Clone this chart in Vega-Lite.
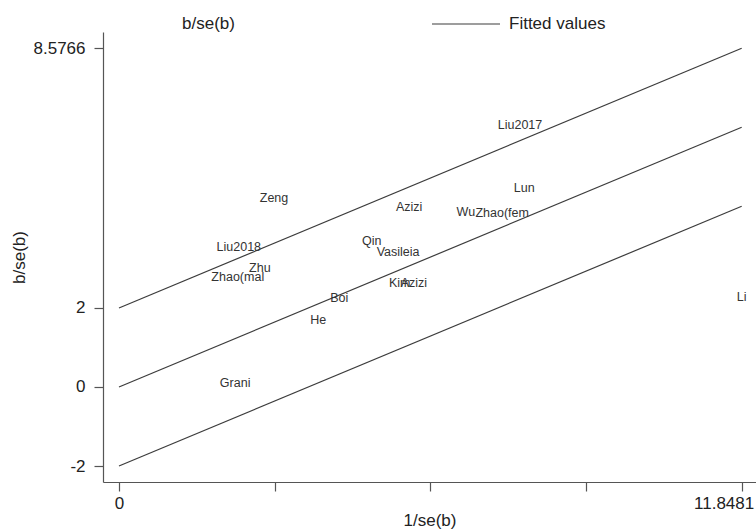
{
  "$schema": "https://vega.github.io/schema/vega-lite/v6.json",
  "width": 653,
  "height": 450,
  "autosize": {"type": "none"},
  "padding": {"left": 103, "top": 32, "right": 0, "bottom": 47},
  "background": "white",
  "config": {
    "view": {"stroke": null},
    "font": "Liberation Sans",
    "axis": {"grid": false, "domainColor": "#555555", "tickColor": "#555555", "labelColor": "#222222", "titleColor": "#222222", "labelFont": "Liberation Sans", "titleFont": "Liberation Sans", "labelFontSize": 17, "titleFontSize": 17, "titleFontWeight": "normal", "tickSize": 9, "domainWidth": 1.2, "tickWidth": 1.2}
  },
  "datasets": {
    "lines": [
      {"x": 0, "y": -2, "line": "lower", "series": "Fitted values"},
      {"x": 11.8481, "y": 4.5766, "line": "lower", "series": "Fitted values"},
      {"x": 0, "y": 0, "line": "middle", "series": "Fitted values"},
      {"x": 11.8481, "y": 6.5766, "line": "middle", "series": "Fitted values"},
      {"x": 0, "y": 2, "line": "upper", "series": "Fitted values"},
      {"x": 11.8481, "y": 8.5766, "line": "upper", "series": "Fitted values"}
    ],
    "studies": [
      {"study": "Liu2017", "x": 7.63, "y": 6.63},
      {"study": "Zeng", "x": 2.95, "y": 4.78},
      {"study": "Azizi", "x": 5.52, "y": 4.56},
      {"study": "Lun", "x": 7.71, "y": 5.04},
      {"study": "Wu", "x": 6.6, "y": 4.43},
      {"study": "Zhao(fem", "x": 7.29, "y": 4.41},
      {"study": "Liu2018", "x": 2.28, "y": 3.54},
      {"study": "Qin", "x": 4.81, "y": 3.7},
      {"study": "Vasileia", "x": 5.31, "y": 3.42},
      {"study": "Zhu", "x": 2.68, "y": 3.01},
      {"study": "Zhao(mal", "x": 2.26, "y": 2.78},
      {"study": "Kim", "x": 5.34, "y": 2.63},
      {"study": "Azizi", "x": 5.61, "y": 2.63},
      {"study": "Boi", "x": 4.19, "y": 2.25},
      {"study": "He", "x": 3.79, "y": 1.7},
      {"study": "Grani", "x": 2.21, "y": 0.1},
      {"study": "Li", "x": 11.8481, "y": 2.28}
    ]
  },
  "layer": [
    {
      "data": {"name": "lines"},
      "mark": {"type": "line", "strokeWidth": 1.2},
      "encoding": {
        "x": {"field": "x", "type": "quantitative", "scale": {"domain": [-0.304, 12.12], "nice": false, "zero": false},
          "axis": {"title": "1/se(b)", "values": [0, 2.962, 5.924, 8.886, 11.8481], "labelExpr": "datum.value == 0 || datum.value > 11 ? '' + datum.value : ''", "labelPadding": 4, "titlePadding": 1,
            "labelAlign": {"condition": {"test": "datum.value > 11", "value": "right"}, "value": "center"},
            "labelOffset": {"condition": {"test": "datum.value > 11", "value": 12}, "value": 0}}},
        "y": {"field": "y", "type": "quantitative", "scale": {"domain": [-2.405, 8.987], "nice": false, "zero": false},
          "axis": {"title": "b/se(b)", "values": [-2, 0, 2, 8.5766], "labelExpr": "'' + datum.value", "labelPadding": 9, "titlePadding": 5}},
        "detail": {"field": "line"},
        "color": {"field": "series", "type": "nominal", "scale": {"domain": ["b/se(b)", "Fitted values"], "range": ["transparent", "#3c3c3c"]},
          "legend": {"title": null, "orient": "none", "direction": "horizontal", "legendX": 1, "legendY": -43, "symbolType": "stroke", "symbolSize": 4624, "symbolStrokeWidth": 1.2, "labelFontSize": 17, "labelFont": "Liberation Sans", "labelColor": "#222222", "labelOffset": 8, "gridAlign": "all", "columnPadding": 150, "padding": 0, "labelLimit": 300}}
      }
    },
    {
      "data": {"name": "studies"},
      "mark": {"type": "text", "fontSize": 12.5, "color": "#333333", "align": "center", "baseline": "middle", "font": "Liberation Sans"},
      "encoding": {
        "x": {"field": "x", "type": "quantitative"},
        "y": {"field": "y", "type": "quantitative"},
        "text": {"field": "study"}
      }
    }
  ]
}
